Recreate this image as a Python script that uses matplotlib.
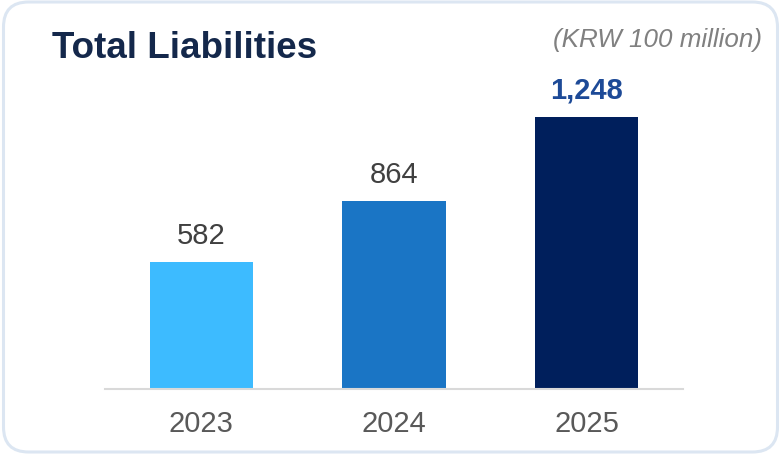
import matplotlib
matplotlib.use("Agg")
import matplotlib.pyplot as plt
from matplotlib.patches import FancyBboxPatch

years = ["2023", "2024", "2025"]
liabilities = [582, 864, 1248]
value_labels = ["582", "864", "1,248"]
bar_colors = ["#3dbbff", "#1a75c5", "#001f5c"]

plt.rcParams["font.family"] = ["Liberation Sans", "DejaVu Sans"]

fig = plt.figure(figsize=(7.81, 4.54), dpi=100)
fig.patch.set_facecolor("white")

# rounded card frame (behind the axes)
frame = FancyBboxPatch((0.035, 0.02), 7.74, 4.50,
                       boxstyle="round,pad=0,rounding_size=0.25",
                       transform=fig.dpi_scale_trans,
                       facecolor="none", edgecolor="#dce6f2", linewidth=2.2,
                       zorder=-1)
fig.patches.append(frame)

ax = fig.add_axes([105 / 781, 65 / 454, 578 / 781, 329 / 454])
ax.set_facecolor("none")

x = range(len(years))
ax.bar(x, liabilities, width=0.535, color=bar_colors, zorder=2)

ax.set_xlim(-0.5, 2.5)
ax.set_ylim(0, 1509)

for i, (v, lab) in enumerate(zip(liabilities, value_labels)):
    last = i == len(liabilities) - 1
    ax.annotate(lab, (i, v), xytext=(0, 13), textcoords="offset points",
                ha="center", va="baseline", fontsize=21,
                color="#1d4a97" if last else "#404040",
                fontweight="bold" if last else "normal")

ax.set_xticks(list(x))
ax.set_xticklabels(years, fontsize=21, color="#595959")
ax.tick_params(axis="x", length=0, pad=15)
ax.set_yticks([])
for side in ["top", "right", "left"]:
    ax.spines[side].set_visible(False)
ax.spines["bottom"].set_color("#d9d9d9")
ax.spines["bottom"].set_linewidth(1.5)

fig.text(52 / 781, 1 - 58 / 454, "Total Liabilities", fontsize=26.5,
         fontweight="bold", color="#14284b", va="baseline", ha="left")
fig.text(762 / 781, 1 - 47 / 454, "(KRW 100 million)", fontsize=18.7,
         style="italic", color="#808080", va="baseline", ha="right")

fig.savefig("out.png", dpi=100, facecolor="white")
